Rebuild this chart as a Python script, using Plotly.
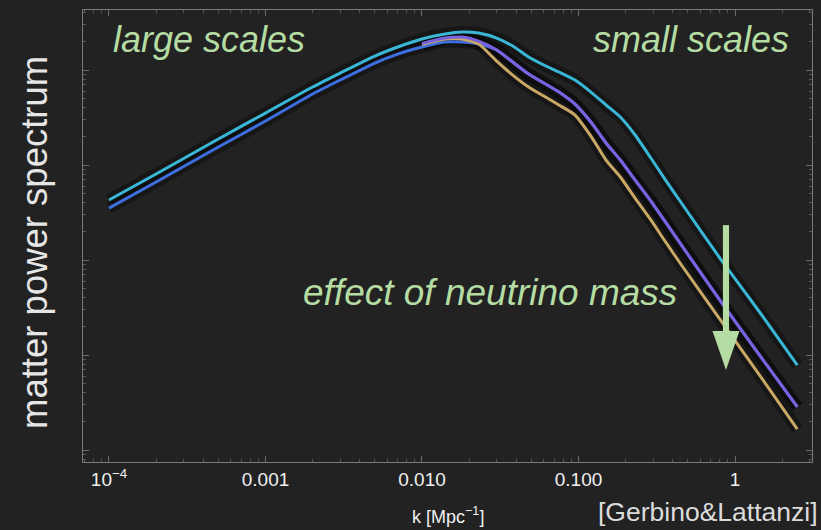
import plotly.graph_objects as go

# ---- data ----
k_full = [1e-4, 2e-4, 5e-4, 1e-3, 2e-3, 3e-3, 5e-3, 7e-3, 0.01, 0.014, 0.018, 0.023,
          0.03, 0.038, 0.048, 0.06, 0.075, 0.095, 0.12, 0.15, 0.185, 0.23, 0.29,
          0.36, 0.45, 0.8, 1.45, 2.5]
P_cyan = [428, 804, 1879, 3524, 6622, 9290, 14030, 17470, 21200, 23930, 25120, 24500,
          21720, 17900, 13710, 11290, 9530, 7850, 5865, 4285, 3200, 2070, 1185,
          695, 408, 105, 27.7, 7.85]
P_blue = [352, 662, 1546, 2904, 5590, 7850, 11850, 14730, 17470, 19720, 19720, 18790,
          16250, 12140, 9080, 7295, 5865, 4385, 2838, 1706, 1129, 695, 418,
          251, 147, 37.9, 9.75, 2.84]

k_part = [0.01, 0.014, 0.018, 0.023, 0.03, 0.038, 0.048, 0.06, 0.075, 0.095,
          0.12, 0.15, 0.185, 0.23, 0.29, 0.36, 0.45, 0.8, 1.45, 2.5]
P_purple = [19000, 21720, 22240, 20180, 16250, 12140, 9080, 7295, 5865, 4385,
            2838, 1706, 1129, 695, 418, 251, 147, 37.9, 9.75, 2.84]
P_tan = [18500, 21180, 21180, 18790, 12440, 8850, 6620, 5320, 4285, 3360,
         2018, 1129, 748, 449, 264, 155, 90.8, 23.9, 6.01, 1.66]

x_tickvals = [1e-4, 1e-3, 1e-2, 1e-1, 1]
x_ticktext = ["10<sup>−4</sup>", "0.001", "0.010", "0.100", "1"]
y_tickvals = [1, 10, 100, 1000, 10000]

BG = "#222222"
GREEN = "#b5dca2"
FONT = "Liberation Sans, Arial, sans-serif"

series = [
    (k_full, P_blue, "#3d6fe0"),
    (k_part, P_tan, "#c9a866"),
    (k_part, P_purple, "#7a62de"),
    (k_full, P_cyan, "#3ab6d6"),
]

fig = go.Figure()
# dark halo around the curves
for k, p, c in series:
    fig.add_trace(go.Scatter(x=k, y=p, mode="lines",
                             line=dict(color="rgba(0,0,0,0.35)", width=12, shape="spline", smoothing=0.6),
                             hoverinfo="skip", showlegend=False))
for k, p, c in series:
    fig.add_trace(go.Scatter(x=k, y=p, mode="lines",
                             line=dict(color=c, width=3, shape="spline", smoothing=0.6),
                             showlegend=False))

minor_x = [m * 10.0 ** e for e in range(-5, 1) for m in range(2, 10)]
minor_y = [m * 10.0 ** e for e in range(-1, 5) for m in range(2, 10)]

axis_common = dict(showgrid=False, zeroline=False, showline=True, linecolor="#7a7a7a",
                   linewidth=1, mirror="allticks", ticks="inside", ticklen=6,
                   tickcolor="#6a6a6a")

fig.update_xaxes(type="log", range=[-4.166, 0.492], tickmode="array", tickvals=x_tickvals,
                 ticktext=x_ticktext, tickfont=dict(family=FONT, size=19, color="#f0f0f0"),
                 minor=dict(tickmode="array", tickvals=minor_x, ticks="inside", ticklen=3,
                            tickcolor="#555555", showgrid=False),
                 **axis_common)
fig.update_yaxes(type="log", range=[-0.126, 4.632], tickmode="array", tickvals=y_tickvals,
                 showticklabels=False,
                 minor=dict(tickmode="array", tickvals=minor_y, ticks="inside", ticklen=3,
                            tickcolor="#555555", showgrid=False),
                 **axis_common)

# arrow (paper coordinates)
ax_c, half_w = 0.882, 0.0042
fig.add_shape(type="rect", xref="paper", yref="paper", x0=ax_c - half_w, x1=ax_c + half_w,
              y0=0.285, y1=0.524, fillcolor=GREEN, line=dict(width=0), layer="above")
fig.add_shape(type="path", xref="paper", yref="paper",
              path=f"M {ax_c-0.0185} 0.290 L {ax_c+0.0185} 0.290 L {ax_c} 0.2035 Z",
              fillcolor=GREEN, line=dict(width=0), layer="above")

annos = [
    dict(text="large scales", x=0.1728, y=0.934, size=36),
    dict(text="small scales", x=0.834, y=0.934, size=36),
    dict(text="effect of neutrino mass", x=0.558, y=0.374, size=37),
]
for a in annos:
    fig.add_annotation(text=f"<i>{a['text']}</i>", x=a["x"], y=a["y"], xref="paper", yref="paper",
                       showarrow=False, xanchor="center", yanchor="middle",
                       font=dict(family=FONT, size=a["size"], color=GREEN))

fig.add_annotation(text="matter power spectrum", x=-0.0672, y=0.4845, xref="paper", yref="paper",
                   showarrow=False, textangle=-90, xanchor="center", yanchor="middle",
                   font=dict(family=FONT, size=36.5, color="#e6e6e6"))
fig.add_annotation(text="k [Mpc<sup>−1</sup>]", x=0.5, y=-0.118, xref="paper", yref="paper",
                   showarrow=False, xanchor="center", yanchor="middle",
                   font=dict(family=FONT, size=18, color="#f0f0f0"))
fig.add_annotation(text="[Gerbino&amp;Lattanzi]", x=1.011, y=-0.111, xref="paper", yref="paper",
                   showarrow=False, xanchor="right", yanchor="middle",
                   font=dict(family=FONT, size=26.5, color="#dcdcdc"))

fig.update_layout(width=821, height=530, paper_bgcolor=BG, plot_bgcolor=BG,
                  margin=dict(l=83, r=9, t=10, b=68), showlegend=False)

fig.write_html("out.html")
